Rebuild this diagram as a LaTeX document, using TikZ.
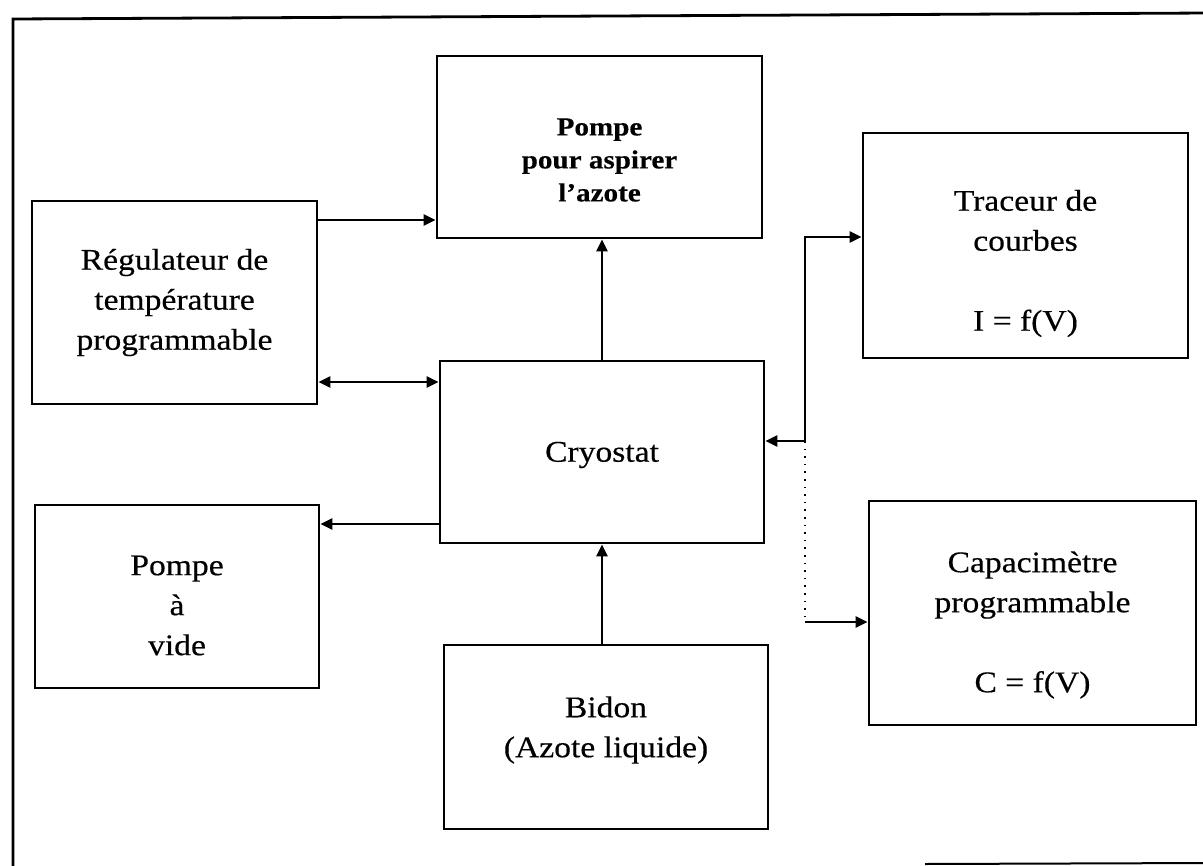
\documentclass[tikz,border=0pt]{standalone}
\usepackage{fontspec}
\setmainfont[FakeStretch=1.12,FakeBold=0.4]{Liberation Serif}
\usetikzlibrary{arrows.meta,fit}

\newcommand\grand{\fontsize{15}{20}\selectfont}
\newcommand\petitgras{\fontsize{13}{16.5}\selectfont\bfseries}

\tikzset{
  boite/.style={draw, line width=1.4pt, inner sep=0pt},
  texte/.style={align=center, font=\grand},
  fleche/.style={line width=1.3pt, -{Triangle[length=6pt,width=5.5pt]}},
  doublefleche/.style={line width=1.3pt, {Triangle[length=6pt,width=5.5pt]}-{Triangle[length=6pt,width=5.5pt]}},
  pointille/.style={line width=0.8pt, dash pattern=on 0.8pt off 3pt},
}

\begin{document}
\begin{tikzpicture}[x=0.5pt,y=-0.5pt]
\useasboundingbox (0,0) rectangle (1203,866);

% cadre
\draw[line width=1.4pt] (13,870) -- (13,19) -- (1210,13);
\draw[line width=1pt] (925,864) -- (1210,863);

% appareils
\node[boite, fit={(437,56) (762,238)},
  label={[texte,font=\petitgras,yshift=-6.5pt]center:{Pompe\\pour aspirer\\l’azote}}] (pompe) {};
\node[boite, fit={(32,201) (317,404)},
  label={[texte]center:{Régulateur de\\température\\programmable}}] (regul) {};
\node[boite, fit={(863,133) (1188,358)},
  label={[texte,yshift=-9pt]center:{Traceur de\\courbes\\[20pt]I = f(V)}}] (traceur) {};
\node[boite, fit={(440,361) (764,543)},
  label={[texte,yshift=-1.5pt]center:Cryostat}] (cryo) {};
\node[boite, fit={(35,505) (319,688)},
  label={[texte,yshift=-4.5pt]center:{Pompe\\à\\vide}}] (vide) {};
\node[boite, fit={(869,501) (1196,725)},
  label={[texte,yshift=-6pt]center:{Capacimètre\\programmable\\[20pt]C = f(V)}}] (capa) {};
\node[boite, fit={(444,645) (768,829)},
  label={[texte,yshift=3.5pt]center:{Bidon\\(Azote liquide)}}] (bidon) {};

% liaisons
\draw[fleche] (regul.east |- 0,220) -- (pompe.west |- 0,220);
\draw[fleche] (cryo.north) -- (cryo.north |- pompe.south);
\draw[doublefleche] (regul.east |- 0,382) -- (cryo.west |- 0,382);
\draw[fleche] (cryo.west |- 0,524) -- (vide.east |- 0,524);
\draw[fleche] (cryo.south |- bidon.north) -- (cryo.south);

\coordinate (noeud) at (805,441);
\draw[fleche] (noeud) -- (cryo.east |- noeud);
\draw[fleche] (noeud) -- (noeud |- 0,237) -- (traceur.west |- 0,237);
\draw[pointille] (noeud) -- (noeud |- 0,622);
\draw[fleche] (noeud |- 0,622) -- (capa.west |- 0,622);

\end{tikzpicture}
\end{document}
